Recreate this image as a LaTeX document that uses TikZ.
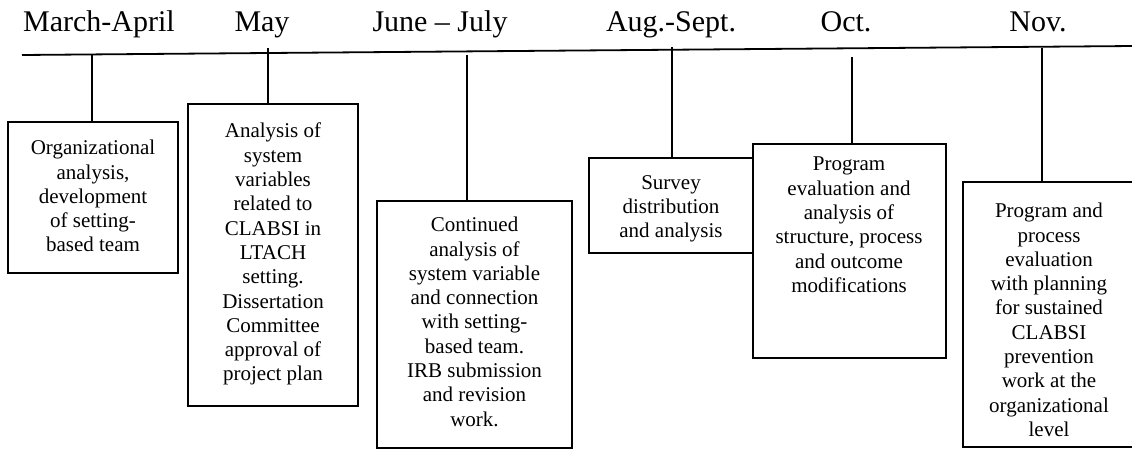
\documentclass[tikz,border=0pt]{standalone}
\usepackage{fontspec}
\setmainfont{Liberation Serif}
\begin{document}
\begin{tikzpicture}[x=1pt,y=-1pt]
\tikzset{
 boxshape/.style={draw, line width=1.3pt, rectangle, anchor=north west, inner sep=0pt, outer sep=0pt},
 boxtext/.style={anchor=north, align=center, inner sep=0pt, font=\fontsize{21}{24.3}\selectfont},
 month/.style={anchor=base, inner sep=0pt, font=\fontsize{30}{36}\selectfont},
 tickline/.style={line width=1.3pt},
 axisline/.style={line width=1.8pt}
}
\useasboundingbox (0,0) rectangle (1132,449);

\coordinate (L) at (22,55);
\coordinate (R) at (1134,46);
\draw[axisline] (L) -- (R);

\node[month] (m1) at (99,32) {March-April};
\node[month] (m2) at (262,32) {May};
\node[month] (m3) at (440,32) {June – July};
\node[month] (m4) at (671,32) {Aug.-Sept.};
\node[month] (m5) at (846,32) {Oct.};
\node[month] (m6) at (1038,32) {Nov.};

\node[boxshape, minimum width=170pt, minimum height=151pt] (b1) at (8,122) {};
\node[boxshape, minimum width=170pt, minimum height=302pt] (b2) at (188,104) {};
\node[boxshape, minimum width=195pt, minimum height=247pt] (b3) at (377,201) {};
\node[boxshape, minimum width=164pt, minimum height=95pt] (b4) at (589,158) {};
\node[boxshape, minimum width=193pt, minimum height=214pt] (b5) at (753,144) {};
\node[boxshape, minimum width=171pt, minimum height=265pt] (b6) at (963,182) {};

\coordinate (c1) at (92,55);
\coordinate (c2) at (268,48);
\coordinate (c3) at (467,55);
\coordinate (c4) at (672,47);
\coordinate (c5) at (852,57);
\coordinate (c6) at (1042,48);
\draw[tickline] (c1) -- (c1 |- b1.north);
\draw[tickline] (c2) -- (c2 |- b2.north);
\draw[tickline] (c3) -- (c3 |- b3.north);
\draw[tickline] (c4) -- (c4 |- b4.north);
\draw[tickline] (c5) -- (c5 |- b5.north);
\draw[tickline] (c6) -- (c6 |- b6.north);

\node[boxtext] (t1) at (93,140) {Organizational\\analysis,\\development\\of setting-\\based team};
\node[boxtext] (t2) at (273,123) {Analysis of\\system\\variables\\related to\\CLABSI in\\LTACH\\setting.\\Dissertation\\Committee\\approval of\\project plan};
\node[boxtext] (t3) at (474.5,217) {Continued\\analysis of\\system variable\\and connection\\with setting-\\based team.\\IRB submission\\and revision\\work.};
\node[boxtext] (t4) at (671,175) {Survey\\distribution\\and analysis};
\node[boxtext] (t5) at (849,157) {Program\\evaluation and\\analysis of\\structure, process\\and outcome\\modifications};
\node[boxtext] (t6) at (1049,203) {Program and\\process\\evaluation\\with planning\\for sustained\\CLABSI\\prevention\\work at the\\organizational\\level};
\end{tikzpicture}
\end{document}
